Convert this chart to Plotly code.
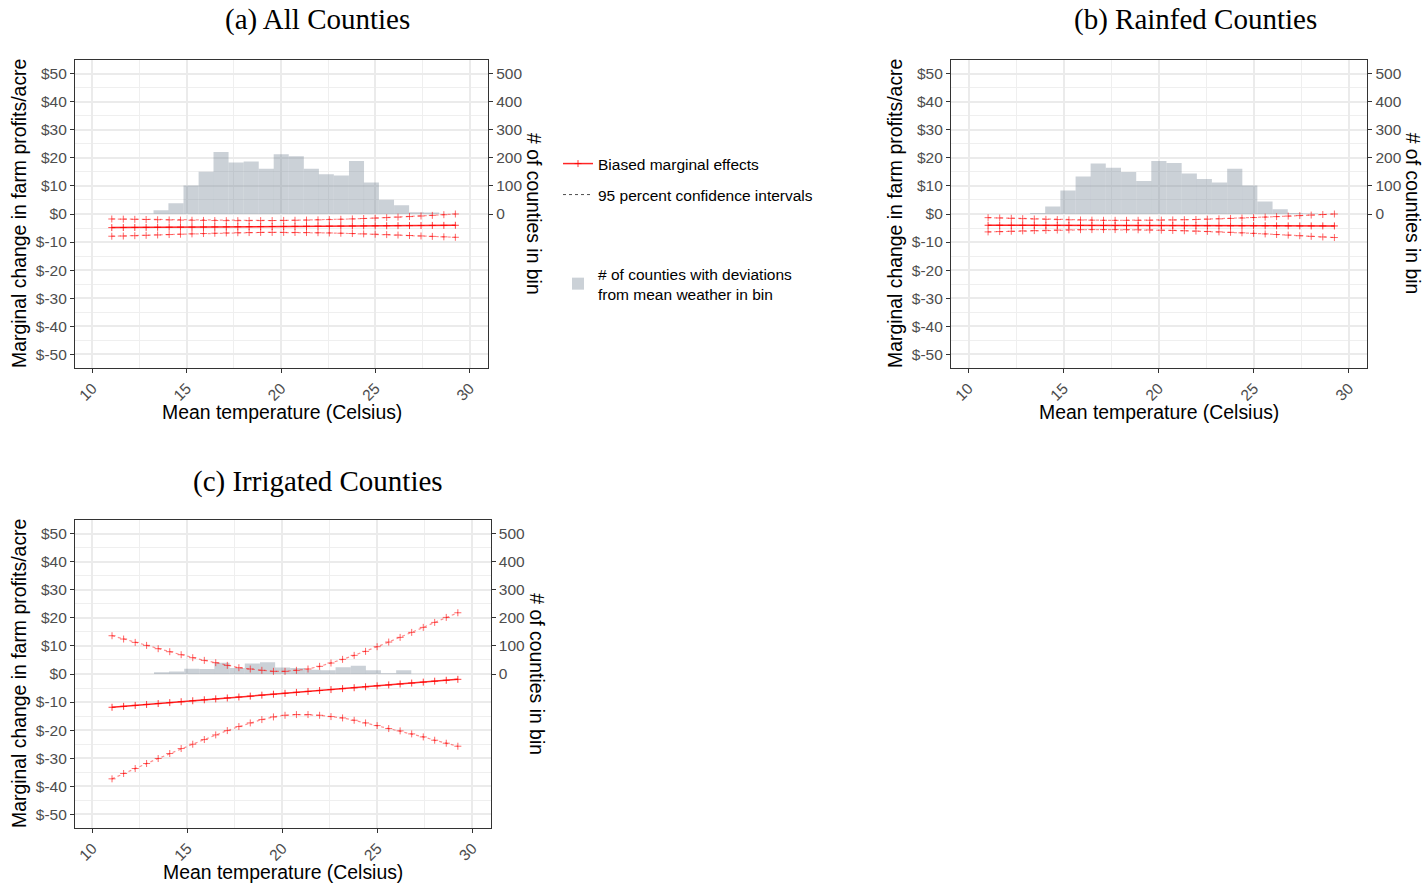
import plotly.graph_objects as go

W, H = 1426, 886
SANS = "Liberation Sans"
SERIF = "Liberation Serif"

# Evaluation points for the marginal effect curves (degrees Celsius)
temps = [11.03, 11.64, 12.25, 12.85, 13.46, 14.07, 14.67, 15.28, 15.89, 16.49,
         17.10, 17.71, 18.31, 18.92, 19.53, 20.14, 20.74, 21.35, 21.96, 22.56,
         23.17, 23.78, 24.38, 24.99, 25.60, 26.20, 26.81, 27.42, 28.02, 28.63, 29.24]

# Histogram bins of county mean temperature deviations
bin_mid = [12.84, 13.64, 14.43, 15.23, 16.03, 16.82, 17.62, 18.42, 19.22, 20.01, 20.81,
           21.61, 22.40, 23.20, 24.00, 24.79, 25.59, 26.39, 27.18, 27.98, 28.78]
bin_width = 0.797

# (a) All counties
all_eff = [-4.85, -4.82, -4.79, -4.77, -4.74, -4.71, -4.68, -4.66, -4.63, -4.60, -4.57,
           -4.55, -4.52, -4.49, -4.46, -4.43, -4.41, -4.38, -4.35, -4.32, -4.30, -4.27,
           -4.24, -4.21, -4.19, -4.16, -4.13, -4.10, -4.07, -4.05, -4.02]
all_up = [-1.78, -1.83, -1.90, -1.97, -2.05, -2.12, -2.18, -2.24, -2.29, -2.33, -2.36,
          -2.37, -2.37, -2.36, -2.33, -2.29, -2.24, -2.17, -2.09, -1.99, -1.88, -1.75,
          -1.61, -1.46, -1.29, -1.11, -0.92, -0.71, -0.49, -0.25, 0.00]
all_lo = [-7.92, -7.85, -7.73, -7.60, -7.47, -7.33, -7.20, -7.08, -6.96, -6.85, -6.76,
          -6.68, -6.62, -6.58, -6.56, -6.56, -6.58, -6.62, -6.68, -6.76, -6.85, -6.96,
          -7.08, -7.21, -7.35, -7.50, -7.66, -7.82, -7.98, -8.14, -8.30]
all_counts = [2, 13, 38, 102, 151, 221, 184, 187, 161, 213, 206,
              161, 142, 137, 189, 112, 51, 31, 6, 5, 0]

# (b) Rainfed counties
rain_eff = [-4.02, -4.03, -4.04, -4.04, -4.05, -4.06, -4.07, -4.08, -4.08, -4.09, -4.10,
            -4.11, -4.12, -4.12, -4.13, -4.14, -4.15, -4.16, -4.16, -4.17, -4.18, -4.19,
            -4.20, -4.20, -4.21, -4.22, -4.23, -4.24, -4.24, -4.25, -4.26]
rain_up = [-1.30, -1.42, -1.54, -1.66, -1.78, -1.89, -1.99, -2.08, -2.15, -2.20, -2.24,
           -2.26, -2.26, -2.25, -2.22, -2.18, -2.12, -2.04, -1.95, -1.84, -1.72, -1.58,
           -1.43, -1.27, -1.10, -0.93, -0.75, -0.57, -0.38, -0.19, 0.00]
rain_lo = [-6.38, -6.27, -6.15, -6.03, -5.92, -5.81, -5.72, -5.65, -5.59, -5.56, -5.55,
           -5.56, -5.58, -5.62, -5.68, -5.76, -5.86, -5.97, -6.09, -6.22, -6.37, -6.53,
           -6.71, -6.90, -7.10, -7.31, -7.52, -7.74, -7.96, -8.18, -8.39]
rain_counts = [0, 4, 27, 84, 134, 180, 165, 150, 118, 189, 182,
               144, 125, 112, 161, 102, 45, 17, 4, 2, 0]

# (c) Irrigated counties
irr_eff = [-11.86, -11.53, -11.20, -10.86, -10.53, -10.20, -9.87, -9.54, -9.20, -8.87, -8.54,
           -8.21, -7.88, -7.54, -7.21, -6.88, -6.55, -6.22, -5.88, -5.55, -5.22, -4.89,
           -4.56, -4.22, -3.89, -3.56, -3.23, -2.90, -2.56, -2.23, -1.90]
irr_up = [13.64, 12.46, 11.27, 10.20, 9.02, 7.95, 6.88, 5.81, 4.86, 4.03, 3.08,
          2.25, 1.78, 1.31, 0.95, 0.95, 1.31, 1.78, 2.73, 3.91, 5.22, 6.64,
          8.07, 9.73, 11.39, 13.05, 14.83, 16.61, 18.39, 20.17, 21.83]
irr_lo = [-37.37, -35.47, -33.69, -31.91, -30.13, -28.35, -26.57, -25.03, -23.37, -21.71, -20.17,
          -18.74, -17.44, -16.25, -15.30, -14.71, -14.47, -14.47, -14.71, -15.18, -15.66, -16.49,
          -17.44, -18.39, -19.45, -20.28, -21.35, -22.42, -23.60, -24.67, -25.74]
irr_counts = [0, 6, 9, 19, 18, 40, 21, 37, 42, 23, 21,
              15, 13, 24, 29, 13, 3, 13, 1, 1, 1]

# Axis ticks
temp_ticks = [10, 15, 20, 25, 30]
dollar_ticks = [50, 40, 30, 20, 10, 0, -10, -20, -30, -40, -50]
dollar_labels = ["$50", "$40", "$30", "$20", "$10", "$0", "$-10", "$-20", "$-30", "$-40", "$-50"]
count_ticks = [0, 100, 200, 300, 400, 500]

titles = ["(a) All Counties", "(b) Rainfed Counties", "(c) Irrigated Counties"]
series = [
    (all_eff, all_up, all_lo, all_counts),
    (rain_eff, rain_up, rain_lo, rain_counts),
    (irr_eff, irr_up, irr_lo, irr_counts),
]
# Panel frames in pixels: left, right, top, bottom; title centre
frames = [
    dict(l=75, r=488, t=59.7, b=368.3, tx=317, ty=20),
    dict(l=951, r=1367.3, t=59.7, b=368.3, tx=1195, ty=20),
    dict(l=75, r=490.7, t=519.7, b=828.3, tx=318, ty=481),
]

RED = "rgba(255,0,0,0.85)"
CI_LINE = "rgba(255,0,0,0.45)"
CI_MARK = "rgba(255,0,0,0.6)"
BAR = "rgba(112,128,144,0.36)"
FRAME = "#333333"
GRID = "#EBEBEB"
GRID_MINOR = "#EFEFEF"
TICKTXT = "#4D4D4D"


def px(x):
    return x / W


def py(y):
    return 1 - y / H


fig = go.Figure()
layout = dict(
    width=W, height=H, margin=dict(l=0, r=0, t=0, b=0),
    paper_bgcolor="white", plot_bgcolor="white", showlegend=True,
    font=dict(family=SANS, size=15.5, color="black"),
)
annotations = []

for i, (eff, up, lo, counts) in enumerate(series):
    n = i + 1
    xname = "x" if n == 1 else f"x{n}"
    cnt_idx, usd_idx = 2 * n - 1, 2 * n
    yc = "y" if cnt_idx == 1 else f"y{cnt_idx}"
    yd = f"y{usd_idx}"
    f = frames[i]

    fig.add_trace(go.Bar(
        x=bin_mid, y=counts, width=bin_width, xaxis=xname, yaxis=yc,
        marker=dict(color=BAR, line=dict(width=0)),
        name="# of counties with deviations<br>from mean weather in bin",
        showlegend=(n == 1), legend="legend3", hoverinfo="skip",
    ))
    for band in (up, lo):
        fig.add_trace(go.Scatter(
            x=temps, y=band, xaxis=xname, yaxis=yd, mode="lines+markers",
            line=dict(color=CI_LINE, width=1.2, dash="dot"),
            marker=dict(symbol="cross-thin", size=5, line=dict(color=CI_MARK, width=1)),
            showlegend=False, hoverinfo="skip",
        ))
    fig.add_trace(go.Scatter(
        x=temps, y=eff, xaxis=xname, yaxis=yd, mode="lines+markers",
        line=dict(color=RED, width=1.5),
        marker=dict(symbol="cross-thin", size=5, line=dict(color=RED, width=0.9)),
        name="Biased marginal effects", showlegend=(n == 1), legend="legend",
        hoverinfo="skip",
    ))

    xdom = [px(f["l"]), px(f["r"])]
    ydom = [py(f["b"]), py(f["t"])]
    layout["xaxis" if n == 1 else f"xaxis{n}"] = dict(
        domain=xdom, anchor=yc, range=[9.08, 30.97],
        tickvals=temp_ticks, ticktext=[str(t) for t in temp_ticks], tickangle=-45,
        tickfont=dict(family=SANS, size=15.5, color=TICKTXT),
        ticks="outside", ticklen=4, tickwidth=1.1, tickcolor=FRAME,
        showline=True, mirror=True, linecolor=FRAME, linewidth=1.1,
        showgrid=True, gridcolor=GRID, gridwidth=2, zeroline=False,
        minor=dict(dtick=2.5, tick0=0, showgrid=True, gridcolor=GRID_MINOR, gridwidth=1.1),
    )
    layout["yaxis" if cnt_idx == 1 else f"yaxis{cnt_idx}"] = dict(
        domain=ydom, anchor=xname, side="right", range=[-550, 550],
        tickvals=count_ticks, ticktext=[str(c) for c in count_ticks],
        tickfont=dict(family=SANS, size=15.5, color=TICKTXT),
        ticks="outside", ticklen=4, tickwidth=1.1, tickcolor=FRAME,
        showline=True, linecolor=FRAME, linewidth=1.1,
        showgrid=False, zeroline=False,
    )
    layout[f"yaxis{usd_idx}"] = dict(
        overlaying=yc, anchor=xname, side="left", range=[-55, 55],
        tickvals=dollar_ticks, ticktext=dollar_labels,
        tickfont=dict(family=SANS, size=15.5, color=TICKTXT),
        ticks="outside", ticklen=4, tickwidth=1.1, tickcolor=FRAME,
        showline=True, linecolor=FRAME, linewidth=1.1,
        showgrid=True, gridcolor=GRID, gridwidth=2, zeroline=False,
        minor=dict(dtick=5, tick0=0, showgrid=True, gridcolor=GRID_MINOR, gridwidth=1.1),
    )

    cy = (f["t"] + f["b"]) / 2
    annotations += [
        dict(text=titles[i], x=px(f["tx"]), y=py(f["ty"]), xref="paper", yref="paper",
             showarrow=False, xanchor="center", yanchor="middle",
             font=dict(family=SERIF, size=29, color="black")),
        dict(text="Marginal change in farm profits/acre", x=px(f["l"] - 56), y=py(cy),
             xref="paper", yref="paper", showarrow=False, textangle=-90,
             xanchor="center", yanchor="middle",
             font=dict(family=SANS, size=19.4, color="black")),
        dict(text="# of counties in bin", x=px(f["r"] + 46), y=py(cy),
             xref="paper", yref="paper", showarrow=False, textangle=90,
             xanchor="center", yanchor="middle",
             font=dict(family=SANS, size=19.4, color="black")),
        dict(text="Mean temperature (Celsius)", x=px((f["l"] + f["r"]) / 2), y=py(f["b"] + 44),
             xref="paper", yref="paper", showarrow=False,
             xanchor="center", yanchor="middle",
             font=dict(family=SANS, size=19.4, color="black")),
    ]

# Legend-only entry for the confidence band style
fig.add_trace(go.Scatter(
    x=[None], y=[None], xaxis="x", yaxis="y2", mode="lines",
    line=dict(color="#4D4D4D", width=1, dash="dot"),
    name="95 percent confidence intervals", legend="legend2", hoverinfo="skip",
))

legend_common = dict(xanchor="left", yanchor="middle", bgcolor="rgba(0,0,0,0)",
                     font=dict(family=SANS, size=15.5, color="black"), itemwidth=30)
layout["legend"] = dict(x=px(558), y=py(164), **legend_common)
layout["legend2"] = dict(x=px(558), y=py(195), **legend_common)
layout["legend3"] = dict(x=px(558), y=py(284), **legend_common)
layout["annotations"] = annotations

fig.update_layout(**layout)
fig.write_html("out.html")
